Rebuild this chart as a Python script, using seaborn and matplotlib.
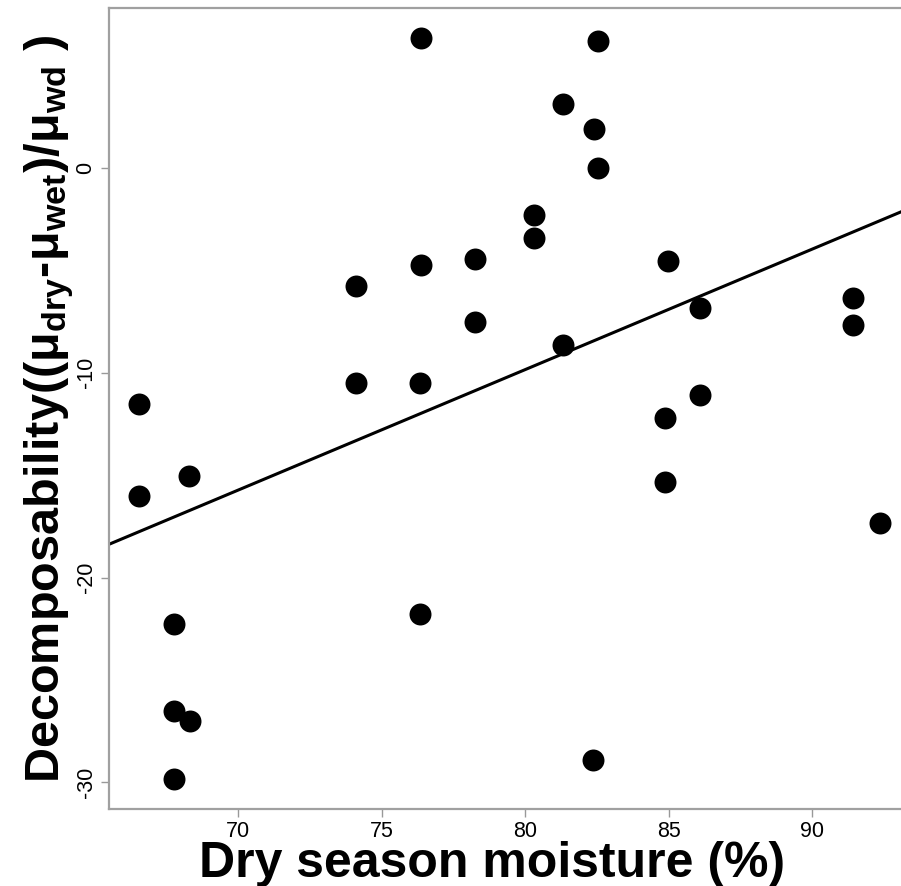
import matplotlib
matplotlib.use("Agg")
import matplotlib.pyplot as plt
import seaborn as sns
import pandas as pd

# Values
moisture = [66.53, 66.53, 68.30, 67.77, 67.77, 68.31, 67.77,
            74.11, 74.11, 76.38, 76.38, 76.32, 76.32,
            78.27, 78.27, 80.31, 80.31, 81.33, 81.33,
            82.39, 82.55, 82.55, 82.37,
            84.99, 84.88, 84.88, 86.10, 86.10,
            91.44, 91.44, 92.37]
decomp = [-11.51, -16.04, -15.03, -22.28, -26.50, -27.00, -29.85,
          -5.78, -10.50, 6.36, -4.72, -10.50, -21.77,
          -4.44, -7.54, -2.31, -3.40, 3.10, -8.66,
          1.88, 6.21, -0.01, -28.90,
          -4.55, -12.21, -15.36, -6.83, -11.07,
          -6.34, -7.68, -17.34]
x_ticks = [70, 75, 80, 85, 90]
y_ticks = [0, -10, -20, -30]

# fitted line shown in the figure (intercept, slope)
fit_intercept = -56.89
fit_slope = 0.588

df = pd.DataFrame({"moisture": moisture, "decomp": decomp})

sns.set_style("white")
plt.rcParams['font.family'] = ['Liberation Sans', 'DejaVu Sans']
plt.rcParams['mathtext.default'] = 'regular'
plt.rcParams['text.color'] = 'black'
plt.rcParams['axes.labelcolor'] = 'black'

fig = plt.figure(figsize=(9.01, 8.86), dpi=100)
ax = fig.add_axes([0.121, 0.087, 0.8886, 0.904])

# R-style 4% padding around the data
rx = max(moisture) - min(moisture)
ry = max(decomp) - min(decomp)
ax.set_xlim(min(moisture) - 0.04 * rx, max(moisture) + 0.04 * rx)
ax.set_ylim(min(decomp) - 0.04 * ry, max(decomp) + 0.04 * ry)

sns.scatterplot(data=df, x="moisture", y="decomp", ax=ax, s=250,
                color="black", linewidth=0, zorder=3)
ax.axline((0, fit_intercept), slope=fit_slope, color="black", lw=2.2)

ax.set_xticks(x_ticks)
ax.set_yticks(y_ticks)
ax.set_xticklabels([str(t) for t in x_ticks], fontsize=15.5)
ax.set_yticklabels([str(t) for t in y_ticks], fontsize=15.5, rotation=90, va='center')
ax.tick_params(axis='both', direction='out', length=6, width=1, color='#999999',
               labelcolor='black', pad=3, bottom=True, left=True)

for s in ax.spines.values():
    s.set_color('#a0a0a0')
    s.set_linewidth(1.6)

ax.set_xlabel("Dry season moisture (%)", fontsize=36, fontweight='bold')
ax.xaxis.set_label_coords(0.479, -0.040, transform=ax.transAxes)
ax.xaxis.label.set_va('top')
ax.set_ylabel(r"Decomposability((μ$_{dry}$-μ$_{wet}$)/μ$_{wd}$ )", fontsize=35,
              fontweight='bold', labelpad=0)

fig.savefig("out.png", dpi=100)
